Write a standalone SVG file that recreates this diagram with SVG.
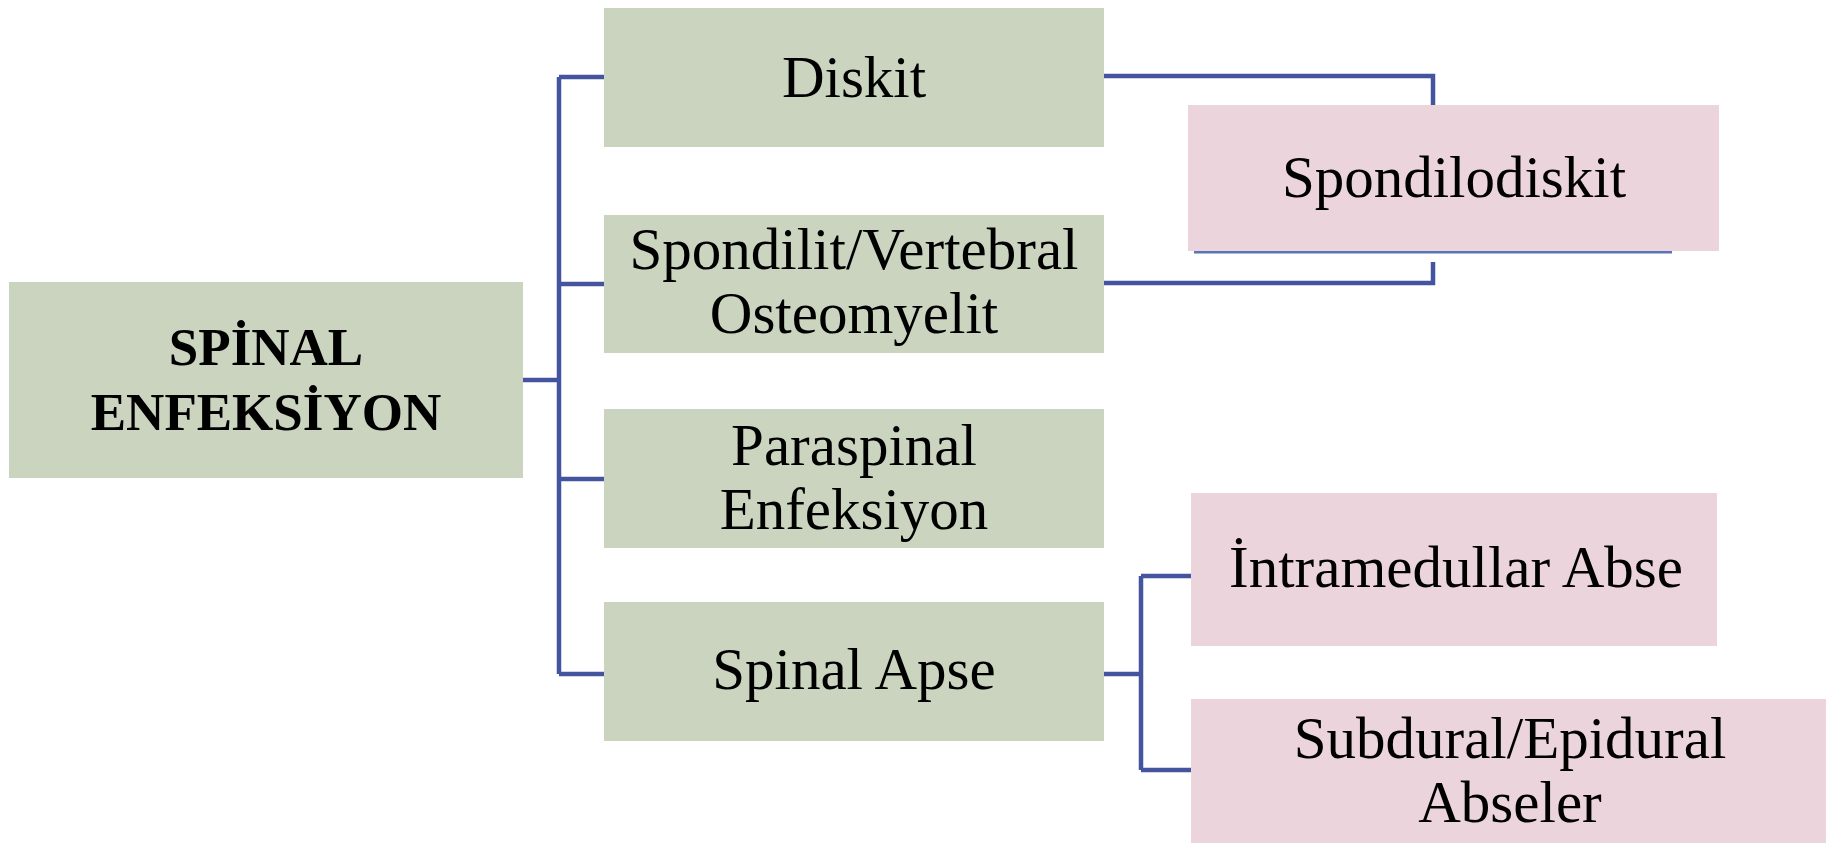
<svg xmlns="http://www.w3.org/2000/svg" width="1835" height="843" viewBox="0 0 1835 843">
<style>
.g{fill:#cad4bf}
.p{fill:#ecd4dc}
.t{font-family:"Liberation Serif",serif;font-size:59px;fill:#000;text-anchor:middle}
.b{font-weight:bold;font-size:53px}
.c{fill:none;stroke:#44549e;stroke-width:4.5}
</style>
<rect width="1835" height="843" fill="#fff"/>
<g id="connectors">
<path class="c" d="M523 380H559M559 77V674M559 77H604M559 284H604M559 479H604M559 674H604"/>
<path class="c" d="M1104 76H1433V105M1104 283H1433V262"/>
<path d="M1194 252H1672" fill="none" stroke="#5a74b4" stroke-width="3"/>
<path class="c" d="M1104 674H1141M1141 576V770M1141 576H1191M1141 770H1191"/>
</g>
<g id="root"><rect class="g" x="9" y="282" width="514" height="196"/><text class="t b" x="266" y="365">SPİNAL</text><text class="t b" x="266" y="430">ENFEKSİYON</text></g>
<g id="diskit"><rect class="g" x="604" y="8" width="500" height="139"/><text class="t" x="854" y="97">Diskit</text></g>
<g id="spondilit"><rect class="g" x="604" y="215" width="500" height="138"/><text class="t" x="854" y="269">Spondilit/Vertebral</text><text class="t" x="854" y="333">Osteomyelit</text></g>
<g id="paraspinal"><rect class="g" x="604" y="409" width="500" height="139"/><text class="t" x="854" y="465">Paraspinal</text><text class="t" x="854" y="529">Enfeksiyon</text></g>
<g id="spinalapse"><rect class="g" x="604" y="602" width="500" height="139"/><text class="t" x="854" y="689">Spinal Apse</text></g>
<g id="spondilodiskit"><rect class="p" x="1188" y="105" width="531" height="146"/><text class="t" x="1454" y="197">Spondilodiskit</text></g>
<g id="intramedullar"><rect class="p" x="1191" y="493" width="526" height="153"/><text class="t" x="1456" y="587">İntramedullar Abse</text></g>
<g id="subdural"><rect class="p" x="1191" y="699" width="635" height="144"/><text class="t" x="1510" y="758">Subdural/Epidural</text><text class="t" x="1510" y="822">Abseler</text></g>
</svg>
